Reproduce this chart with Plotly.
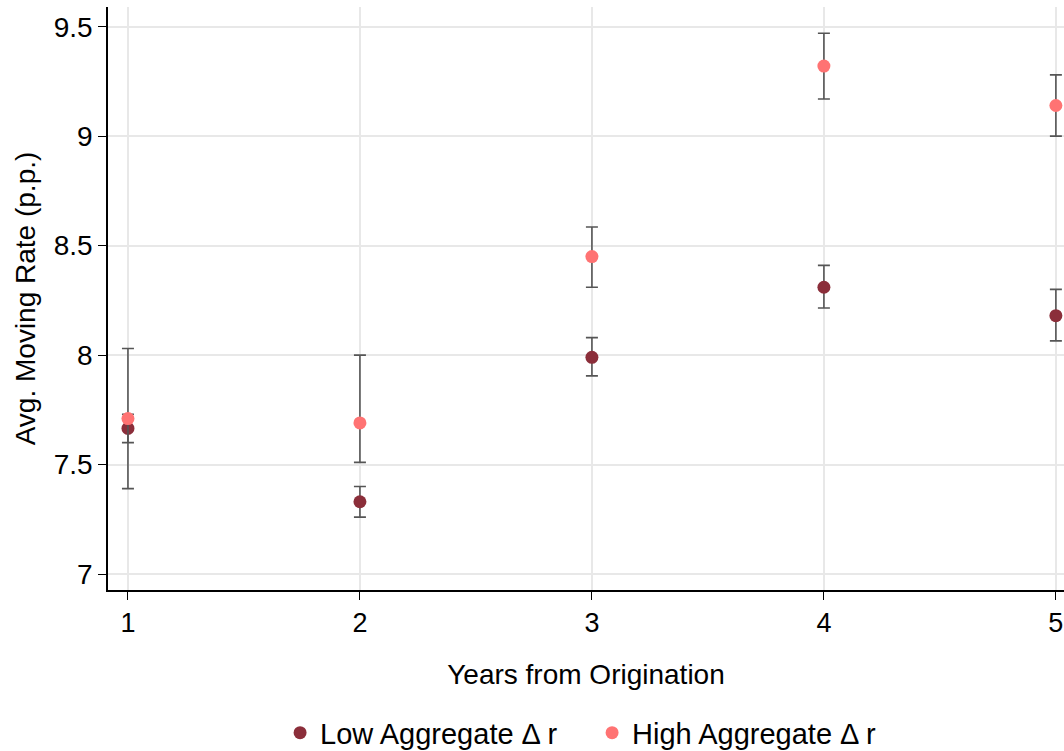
import plotly.graph_objects as go

years = [1, 2, 3, 4, 5]
low_mean = [7.665, 7.33, 7.99, 8.31, 8.18]
low_upper = [7.73, 7.40, 8.08, 8.41, 8.30]
low_lower = [7.60, 7.26, 7.905, 8.215, 8.065]
high_mean = [7.71, 7.69, 8.45, 9.32, 9.14]
high_upper = [8.03, 8.00, 8.585, 9.47, 9.28]
high_lower = [7.39, 7.51, 8.31, 9.17, 9.00]

FONT = "Liberation Sans, Arial, Helvetica, sans-serif"
ERR = "#555555"

def err(mean, up, lo):
    return dict(type="data", symmetric=False,
                array=[u - m for u, m in zip(up, mean)],
                arrayminus=[m - l for m, l in zip(mean, lo)],
                color=ERR, thickness=1.6, width=6)

fig = go.Figure()
fig.add_trace(go.Scatter(x=years, y=low_mean, mode="markers", name="Low Aggregate Δ r",
                         marker=dict(color="#8B2E3A", size=13), cliponaxis=False,
                         error_y=err(low_mean, low_upper, low_lower)))
fig.add_trace(go.Scatter(x=years, y=high_mean, mode="markers", name="High Aggregate Δ r",
                         marker=dict(color="#FF7373", size=13), cliponaxis=False,
                         error_y=err(high_mean, high_upper, high_lower)))

fig.update_layout(
    width=1064, height=751,
    plot_bgcolor="white", paper_bgcolor="white",
    margin=dict(l=108, r=0, t=7, b=161, autoexpand=False),
    font=dict(family=FONT, size=28, color="black"),
    showlegend=True,
    legend=dict(orientation="h", x=0.18, xanchor="left", y=-0.245, yanchor="middle",
                font=dict(size=29), itemsizing="trace", itemwidth=30,
                entrywidth=267, entrywidthmode="pixels"),
    xaxis=dict(range=[0.914, 5.035], tickvals=years, ticktext=[str(y) for y in years],
               showgrid=True, gridcolor="#e8e8e8", gridwidth=1.5,
               showline=True, linecolor="black", linewidth=1.5,
               ticks="outside", ticklen=8, tickcolor="black",
               tickfont=dict(size=27), zeroline=False, automargin=False,
               title=dict(text="Years from Origination", font=dict(size=28), standoff=27)),
    yaxis=dict(range=[6.927, 9.59], tickvals=[7, 7.5, 8, 8.5, 9, 9.5],
               ticktext=["7", "7.5", "8", "8.5", "9", "9.5"],
               showgrid=True, gridcolor="#e8e8e8", gridwidth=1.5,
               showline=True, linecolor="black", linewidth=1.5,
               ticks="outside", ticklen=8, tickcolor="black",
               tickfont=dict(size=28), zeroline=False, automargin=False,
               title=dict(text="Avg. Moving Rate (p.p.)", font=dict(size=28), standoff=10)),
)

fig.write_html("out.html", config={"displayModeBar": False},
               post_script="document.body.style.margin='0';document.body.style.padding='0';")
